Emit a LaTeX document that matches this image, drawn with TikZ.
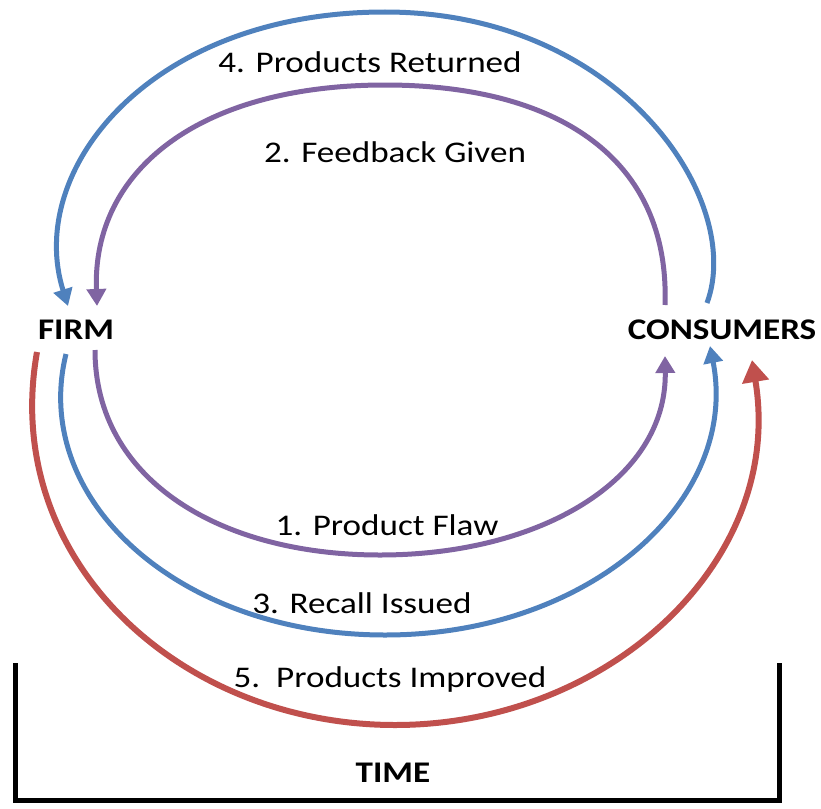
\documentclass[tikz,border=0pt]{standalone}
\usepackage{fontspec}
\setmainfont{Carlito}
\usetikzlibrary{arrows.meta}
\definecolor{cblue}{HTML}{4F81BD}
\definecolor{cpurple}{HTML}{8064A2}
\definecolor{cred}{HTML}{C0504D}
\begin{document}
\begin{tikzpicture}[x=1pt,y=-1pt,
  lbl/.style={font=\fontsize{30}{36}\selectfont, inner sep=0pt, xscale=1.17},
  key/.style={font=\fontsize{30}{36}\selectfont\bfseries, inner sep=0pt, xscale=1.17},
  flow/.style={line width=5pt, -{Triangle[length=17pt,width=19pt]}},
  bigflow/.style={line width=6pt, -{Triangle[length=22pt,width=26pt]}}]
\useasboundingbox (0,0) rectangle (821,808);
\node[key] (firm) at (76,330) {FIRM};
\node[key] (cons) at (722,330) {CONSUMERS};
\node[key] (time) at (393,773) {TIME};
% endpoints
\coordinate (b4s) at (707,303);
\coordinate (b4e) at (68,306);
\coordinate (p2s) at (665,305);
\coordinate (p2e) at (97,306);
\coordinate (p1s) at (95,350);
\coordinate (p1e) at (665,356);
\coordinate (b3s) at (66,354);
\coordinate (b3e) at (710,346);
\coordinate (r5s) at (37,352);
\coordinate (r5e) at (752,360);
% curves
\draw[flow, cblue] (b4s) .. controls (745,200) and (620,12) .. (385,12)
   .. controls (150,12) and (25,170) .. (b4e);
\draw[flow, cpurple] (p2s) .. controls (670,160) and (560,85) .. (385,85)
   .. controls (200,85) and (92,170) .. (p2e);
\draw[flow, cpurple] (p1s) .. controls (95,480) and (220,555) .. (380,555)
   .. controls (540,555) and (667,480) .. (p1e);
\draw[flow, cblue] (b3s) .. controls (30,500) and (180,635) .. (385,635)
   .. controls (590,635) and (740,500) .. (b3e);
\draw[bigflow, cred] (r5s) .. controls (0,560) and (180,725) .. (395,725)
   .. controls (610,725) and (785,560) .. (r5e);
% labels
\node[lbl] (l4) at (370,62) {4. Products Returned};
\node[lbl] (l2) at (395,152) {2. Feedback Given};
\node[lbl] (l1) at (387,525) {1. Product Flaw};
\node[lbl] (l3) at (362,603) {3. Recall Issued};
\node[lbl] (l5) at (390,679) {5.\ \ Products Improved};
% time bracket
\draw[line width=5pt] (15,663) -- (15,800) -- (779,800) -- (779,663);
\end{tikzpicture}
\end{document}
